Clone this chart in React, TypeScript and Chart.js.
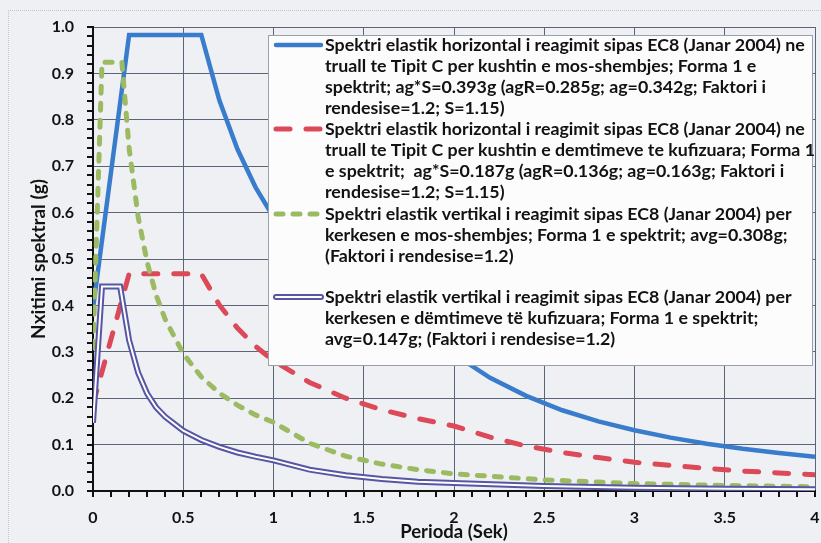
import React, { useEffect, useRef } from "react";
import { Chart, registerables } from "chart.js";

Chart.register(...registerables);

// ---- Data ----
const periodsH = [0, 0.2, 0.6, 0.7, 0.8, 0.9, 1.0, 1.2, 1.4, 1.6, 1.8, 2.0, 2.2, 2.4, 2.6, 2.8, 3.0, 3.2, 3.4, 3.6, 3.8, 4.0];
const horizNoCollapse = [0.393, 0.983, 0.983, 0.842, 0.737, 0.655, 0.590, 0.491, 0.421, 0.368, 0.328, 0.295, 0.244, 0.205, 0.174, 0.150, 0.131, 0.115, 0.102, 0.091, 0.082, 0.074];
const horizDamage = [0.187, 0.468, 0.468, 0.401, 0.351, 0.312, 0.281, 0.234, 0.200, 0.175, 0.156, 0.140, 0.116, 0.097, 0.083, 0.072, 0.062, 0.055, 0.049, 0.043, 0.039, 0.035];

const periodsVNoCollapse = [0, 0.05, 0.16, 0.2, 0.25, 0.3, 0.35, 0.4, 0.5, 0.6, 0.7, 0.8, 0.9, 1.0, 1.2, 1.4, 1.6, 1.8, 2.0, 2.5, 3.0, 3.5, 4.0];
const vertNoCollapse = [0.308, 0.924, 0.924, 0.739, 0.591, 0.493, 0.422, 0.370, 0.296, 0.246, 0.211, 0.185, 0.164, 0.148, 0.103, 0.075, 0.058, 0.046, 0.037, 0.024, 0.016, 0.012, 0.009];

const periodsVDamage = [0, 0.05, 0.15, 0.2, 0.25, 0.3, 0.35, 0.4, 0.5, 0.6, 0.7, 0.8, 0.9, 1.0, 1.2, 1.4, 1.6, 1.8, 2.0, 2.5, 3.0, 3.5, 4.0];
const vertDamage = [0.147, 0.441, 0.441, 0.325, 0.255, 0.210, 0.180, 0.160, 0.130, 0.110, 0.095, 0.083, 0.074, 0.066, 0.046, 0.034, 0.026, 0.020, 0.017, 0.011, 0.007, 0.005, 0.004];

const legendTexts: string[][] = [
  [
    "Spektri elastik horizontal i reagimit sipas EC8 (Janar 2004) ne",
    "truall te Tipit C per kushtin e mos-shembjes; Forma 1 e",
    "spektrit; ag*S=0.393g (agR=0.285g; ag=0.342g; Faktori i",
    "rendesise=1.2; S=1.15)",
  ],
  [
    "Spektri elastik horizontal i reagimit sipas EC8 (Janar 2004) ne",
    "truall te Tipit C per kushtin e demtimeve te kufizuara; Forma 1",
    "e spektrit;  ag*S=0.187g (agR=0.136g; ag=0.163g; Faktori i",
    "rendesise=1.2; S=1.15)",
  ],
  [
    "Spektri elastik vertikal i reagimit sipas EC8 (Janar 2004) per",
    "kerkesen e mos-shembjes; Forma 1 e spektrit; avg=0.308g;",
    "(Faktori i rendesise=1.2)",
  ],
  [
    "Spektri elastik vertikal i reagimit sipas EC8 (Janar 2004) per",
    "kerkesen e dëmtimeve të kufizuara; Forma 1 e spektrit;",
    "avg=0.147g; (Faktori i rendesise=1.2)",
  ],
];

const xAxisTitle = "Perioda (Sek)";
const yAxisTitle = "Nxitimi spektral (g)";
const xMax = 4;
const yMax = 1;
const xMinorStep = 0.1;
const yMinorStep = 0.02;

const BLUE = "#3a7ccc";
const RED = "#dc4a5a";
const GREEN = "#9cba62";
const PURPLE = "#5656a4";
const GRID = "#5c6478";
const TEXT = "#121212";
const FONT = "Lato, 'Open Sans', sans-serif";

const toXY = (xs: number[], ys: number[]) => xs.map((x, i) => ({ x, y: ys[i] }));

const minorTickPlugin = {
  id: "minorTicks",
  afterDraw(chart: any) {
    const ctx = chart.ctx as CanvasRenderingContext2D;
    const area = chart.chartArea;
    const xs = chart.scales["x"];
    const ys = chart.scales["y"];
    const len = 6;
    ctx.save();
    ctx.strokeStyle = "#111111";
    ctx.lineWidth = 2;
    ctx.setLineDash([]);
    ctx.beginPath();
    const nx = Math.round(xMax / xMinorStep);
    for (let i = 0; i <= nx; i++) {
      const px = Math.round(xs.getPixelForValue(i * xMinorStep));
      ctx.moveTo(px, area.bottom);
      ctx.lineTo(px, area.bottom + len);
    }
    const ny = Math.round(yMax / yMinorStep);
    for (let i = 0; i <= ny; i++) {
      const py = Math.round(ys.getPixelForValue(i * yMinorStep));
      ctx.moveTo(area.left - len, py);
      ctx.lineTo(area.left, py);
    }
    ctx.stroke();
    ctx.restore();
  },
};

const legendPlugin = {
  id: "boxLegend",
  afterDraw(chart: any) {
    const ctx = chart.ctx as CanvasRenderingContext2D;
    const bx = 268, by = 35, bw = 544, bh = 330;
    ctx.save();
    ctx.fillStyle = "#fcfcfd";
    ctx.fillRect(bx, by, bw, bh);
    ctx.strokeStyle = "#9aa0aa";
    ctx.lineWidth = 1;
    ctx.strokeRect(bx + 0.5, by + 0.5, bw, bh);

    const starts = [45, 129, 214, 297];
    const lh = 21;
    const styles = [
      { color: BLUE, w: 4.5, dash: [] as number[] },
      { color: RED, w: 5, dash: [14, 16] },
      { color: GREEN, w: 5, dash: [7, 10] },
      { color: PURPLE, w: 6, dash: [] as number[], double: true },
    ];
    styles.forEach((s: any, i) => {
      const y = starts[i];
      ctx.beginPath();
      ctx.setLineDash(s.dash);
      ctx.lineCap = "round";
      ctx.strokeStyle = s.color;
      ctx.lineWidth = s.w;
      ctx.moveTo(276, y);
      ctx.lineTo(321, y);
      ctx.stroke();
      if (s.double) {
        ctx.beginPath();
        ctx.strokeStyle = "#ffffff";
        ctx.lineWidth = 2;
        ctx.moveTo(276, y);
        ctx.lineTo(321, y);
        ctx.stroke();
      }
      ctx.setLineDash([]);
      ctx.fillStyle = TEXT;
      ctx.font = `bold 17.8px ${FONT}`;
      ctx.textBaseline = "middle";
      ctx.textAlign = "left";
      legendTexts[i].forEach((t, j) => {
        ctx.fillText(t, 325, y + j * lh);
      });
    });
    ctx.restore();
  },
};

export default function App() {
  const ref = useRef<HTMLCanvasElement>(null);

  useEffect(() => {
    if (!ref.current) return;
    const chart = new Chart(ref.current, {
      type: "line",
      data: {
        datasets: [
          {
            label: legendTexts[0].join(" "),
            data: toXY(periodsH, horizNoCollapse),
            borderColor: BLUE,
            borderWidth: 4.5,
            pointRadius: 0,
            order: 5,
          },
          {
            label: legendTexts[1].join(" "),
            data: toXY(periodsH, horizDamage),
            borderColor: RED,
            borderWidth: 5,
            borderDash: [14, 16],
            borderCapStyle: "round",
            pointRadius: 0,
            order: 4,
          },
          {
            label: legendTexts[2].join(" "),
            data: toXY(periodsVNoCollapse, vertNoCollapse),
            borderColor: GREEN,
            borderWidth: 5,
            borderDash: [7, 10],
            borderCapStyle: "round",
            pointRadius: 0,
            order: 3,
          },
          {
            label: legendTexts[3].join(" "),
            data: toXY(periodsVDamage, vertDamage),
            borderColor: PURPLE,
            borderWidth: 6,
            pointRadius: 0,
            order: 2,
          },
          {
            label: "",
            data: toXY(periodsVDamage, vertDamage),
            borderColor: "#ffffff",
            borderWidth: 2,
            pointRadius: 0,
            order: 1,
          },
        ],
      },
      options: {
        responsive: false,
        animation: false,
        layout: { padding: { left: 0, right: 6, top: 27, bottom: 0 } },
        plugins: {
          legend: { display: false },
          tooltip: { enabled: false },
        },
        scales: {
          x: {
            type: "linear",
            min: 0,
            max: xMax,
            ticks: {
              stepSize: 0.5,
              autoSkip: false,
              maxRotation: 0,
              padding: 11,
              color: TEXT,
              font: { family: FONT, size: 16, weight: "bold" },
              callback: (v: any) => String(Math.round(Number(v) * 10) / 10),
            },
            grid: {
              color: GRID,
              drawTicks: true,
              tickColor: "#111111",
              tickLength: 6,
              lineWidth: 1,
            },
            border: { display: true, color: "#111", width: 2 },
            title: {
              display: true,
              text: xAxisTitle,
              color: TEXT,
              font: { family: FONT, size: 18.5, weight: "bold" },
              padding: { top: 0, bottom: 0 },
            },
            afterFit: (s: any) => {
              s.height = 52;
              s.paddingLeft = 0;
              s.paddingRight = 0;
            },
          },
          y: {
            type: "linear",
            min: 0,
            max: yMax,
            ticks: {
              stepSize: 0.1,
              autoSkip: false,
              padding: 13,
              color: TEXT,
              font: { family: FONT, size: 16, weight: "bold" },
              callback: (v: any) => (Math.round(Number(v) * 10) / 10).toFixed(1),
            },
            grid: {
              color: GRID,
              drawTicks: true,
              tickColor: "#111111",
              tickLength: 6,
              lineWidth: 1,
            },
            border: { display: true, color: "#111", width: 2 },
            title: {
              display: true,
              text: yAxisTitle,
              color: TEXT,
              font: { family: FONT, size: 19, weight: "bold" },
              padding: { top: 27, bottom: 0 },
            },
            afterFit: (s: any) => {
              s.width = 93;
              s.paddingTop = 0;
              s.paddingBottom = 0;
            },
          },
        },
      },
      plugins: [minorTickPlugin, legendPlugin],
    });
    return () => chart.destroy();
  }, []);

  return (
    <div
      style={{
        position: "absolute",
        left: 0,
        top: 0,
        width: 821,
        height: 543,
        background: "#eef0f4",
        overflow: "hidden",
      }}
    >
      <div
        style={{
          position: "absolute",
          left: 8,
          top: 10,
          width: 900,
          height: 600,
          borderLeft: "1px dotted #b9c9dc",
          borderTop: "1px dotted #b9c9dc",
        }}
      />
      <canvas ref={ref} width={821} height={543} style={{ position: "absolute", left: 0, top: 0, width: 821, height: 543 }} />
    </div>
  );
}
